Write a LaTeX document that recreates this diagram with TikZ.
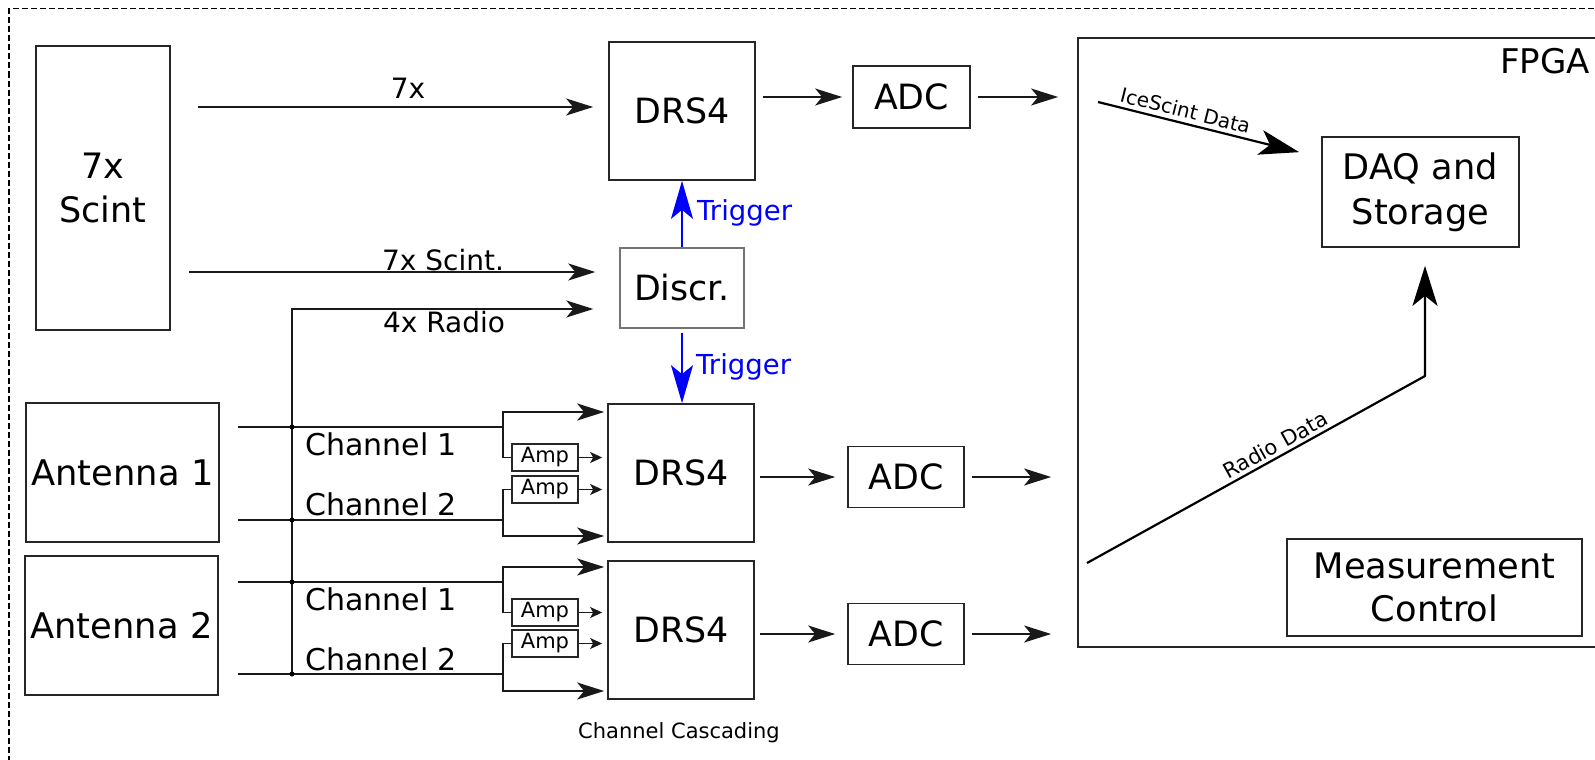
\documentclass[tikz,border=0pt]{standalone}
\usepackage{fontspec}
\setmainfont{DejaVu Sans}
\usetikzlibrary{arrows.meta,calc}
\newcommand{\fsz}[2]{\fontsize{#1}{#2}\selectfont}
\begin{document}
\begin{tikzpicture}[x=1pt,y=-1pt,
  box/.style={draw=black!85, line width=1.7pt, inner sep=0pt, font=\fsz{34.8}{43}, align=center},
  ampbox/.style={draw=black!85, line width=1.5pt, minimum width=66pt, minimum height=27pt, inner sep=0pt, font=\fsz{21}{25}},
  wire/.style={line width=1.8pt, draw=black!90},
  arrA/.style={wire, -{Stealth[length=27pt,width=17pt,inset=7pt]}},
  arrS/.style={wire, line width=1.4pt, -{Stealth[length=12pt,width=11pt,inset=3pt]}},
  arrT/.style={line width=2pt, draw=blue, fill=blue, -{Stealth[length=38pt,width=22pt,inset=9pt]}},
  arrL/.style={line width=2.2pt, draw=black, -{Stealth[length=40pt,width=25pt,inset=10pt]}},
  lbl/.style={font=\fsz{28}{34}, inner sep=0pt},
  chl/.style={font=\fsz{30}{36}, inner sep=0pt, anchor=base west},
  trig/.style={font=\fsz{27.5}{32}, text=blue, inner sep=0pt, anchor=west},
  dot/.style={circle, fill=black, inner sep=0pt, minimum size=5pt},
]
\useasboundingbox (0,0) rectangle (1595,760);
\clip (0,0) rectangle (1595,760);

% outer dashed frame
\draw[line width=1.5pt, dash pattern=on 6pt off 3pt] (9,8.5) rectangle (1630,800);

% blocks
\node[box, minimum width=134pt, minimum height=284pt, font=\fsz{35}{44}] (scint) at (103,188) {7x\\Scint};
\node[box, minimum width=146pt, minimum height=138pt] (drsA) at (682,111) {DRS4};
\node[box, draw=black!55, line width=1.4pt, minimum width=124pt, minimum height=80pt] (discr) at (682,288) {Discr.};
\node[box, minimum width=117pt, minimum height=62pt] (adcA) at (911.5,97) {ADC};
\node[box, minimum width=193pt, minimum height=139pt, font=\fsz{35.3}{43}] (ant1) at (122.5,472.5) {Antenna 1};
\node[box, minimum width=193pt, minimum height=139pt, font=\fsz{35.3}{43}] (ant2) at (121.5,625.5) {Antenna 2};
\node[box, minimum width=146pt, minimum height=138pt] (drsB) at (681,473) {DRS4};
\node[box, minimum width=146pt, minimum height=138pt] (drsC) at (681,630) {DRS4};
\node[box, minimum width=116pt, minimum height=61pt] (adcB) at (906,477) {ADC};
\node[box, minimum width=116pt, minimum height=61pt] (adcC) at (906,634) {ADC};
\node[ampbox] (amp1) at (545,457.5) {Amp};
\node[ampbox] (amp2) at (545,489.5) {Amp};
\node[ampbox] (amp3) at (545,612.5) {Amp};
\node[ampbox] (amp4) at (545,643.5) {Amp};
\node[box, line width=1.8pt, minimum width=562pt, minimum height=609pt] (fpga) at (1359,342.5) {};
\node[font=\fsz{34}{40}, anchor=base east, inner sep=0pt] (fpgalbl) at (1590,74) {FPGA};
\node[box, minimum width=197pt, minimum height=110pt, font=\fsz{35.2}{45}] (daq) at (1420.5,192) {DAQ and\\Storage};
\node[box, minimum width=295pt, minimum height=97pt, font=\fsz{35.2}{43}] (meas) at (1434.5,587.5) {Measurement\\Control};

% scintillator paths
\coordinate (s7) at (198,107);
\draw[arrA, shorten >=15pt] (s7) -- (s7 -| drsA.west);
\node[lbl] (l7x) at (408,88) {7x};
\coordinate (s7b) at (189,272);
\draw[arrA, shorten >=24pt] (s7b) -- (s7b -| discr.west);
\node[lbl, anchor=base] (l7s) at (443,270.5) {7x Scint.};

% radio bus to discriminator
\coordinate (busTop) at (292,309);
\coordinate (busBot) at (292,674);
\draw[arrA, shorten >=26pt] (busBot) -- (busTop) -- (busTop -| discr.west);
\node[lbl] (l4r) at (444,322) {4x Radio};

% triggers
\draw[arrT] (discr.north) -- (drsA.south);
\node[trig] (tr1) at (697,213) {Trigger};
\draw[arrT, shorten <=4pt] (discr.south) -- (discr.south |- drsB.north);
\node[trig] (tr2) at (696,367) {Trigger};

% antenna lines
\coordinate (a1c1) at (238,427);
\coordinate (a1c2) at (238,520);
\coordinate (a2c1) at (238,582);
\coordinate (a2c2) at (238,674);
\coordinate (b1) at (503,427);
\coordinate (b2) at (503,520);
\coordinate (b3) at (503,582);
\coordinate (b4) at (503,674);
\coordinate (t1) at (503,412);
\coordinate (u2) at (503,536);
\coordinate (t3) at (503,567);
\coordinate (u4) at (503,691);

\draw[wire] (a1c1) -- (b1);
\draw[wire] (a1c2) -- (b2);
\draw[wire] (a2c1) -- (b3);
\draw[wire] (a2c2) -- (b4);

\node[dot] (d1) at (a1c1 -| busTop) {};
\node[dot] (d2) at (a1c2 -| busTop) {};
\node[dot] (d3) at (a2c1 -| busTop) {};
\node[dot] (d4) at (a2c2 -| busTop) {};

\node[chl] (c11) at (305,455) {Channel 1};
\node[chl] (c12) at (305,515) {Channel 2};
\node[chl] (c21) at (305,610) {Channel 1};
\node[chl] (c22) at (305,670) {Channel 2};

% cascading branches, DRS4 #2
\draw[arrA, shorten >=3pt] (b1) -- (t1) -- (t1 -| drsB.west);
\draw[wire] (b1) |- (amp1.west);
\draw[arrS, shorten >=5pt] (amp1.east) -- (amp1.east -| drsB.west);
\draw[wire] (b2) |- (amp2.west);
\draw[arrS, shorten >=5pt] (amp2.east) -- (amp2.east -| drsB.west);
\draw[arrA, shorten >=3pt] (b2) -- (u2) -- (u2 -| drsB.west);

% cascading branches, DRS4 #3
\draw[arrA, shorten >=3pt] (b3) -- (t3) -- (t3 -| drsC.west);
\draw[wire] (b3) |- (amp3.west);
\draw[arrS, shorten >=5pt] (amp3.east) -- (amp3.east -| drsC.west);
\draw[wire] (b4) |- (amp4.west);
\draw[arrS, shorten >=5pt] (amp4.east) -- (amp4.east -| drsC.west);
\draw[arrA, shorten >=3pt] (b4) -- (u4) -- (u4 -| drsC.west);

\node[font=\fsz{21}{25}, inner sep=0pt] (casc) at (679,733) {Channel Cascading};

% DRS4 -> ADC -> FPGA
\draw[arrA, shorten <=7pt, shorten >=10pt] (drsA.east |- adcA.west) -- (adcA.west);
\draw[arrA, shorten <=5pt, shorten >=12pt] (drsB.east |- adcB.west) -- (adcB.west);
\draw[arrA, shorten <=5pt, shorten >=12pt] (drsC.east |- adcC.west) -- (adcC.west);
\draw[arrA, shorten <=7pt, shorten >=19pt] (adcA.east) -- (adcA.east -| fpga.west);
\draw[arrA, shorten <=7pt, shorten >=26pt] (adcB.east) -- (adcB.east -| fpga.west);
\draw[arrA, shorten <=7pt, shorten >=26pt] (adcC.east) -- (adcC.east -| fpga.west);

% inside FPGA
\coordinate (iceS) at (1098,102);
\draw[arrL] (iceS) -- ($(daq.north west)+(-22,16)$)
  node[pos=0.42, sloped, above=4pt, inner sep=0pt, font=\fsz{20}{24}] (lice) {IceScint Data};
\coordinate (radS) at (1087,563);
\coordinate (radC) at (1425,376);
\draw[arrL, shorten >=18pt] (radS) -- (radC)
  node[pos=0.575, sloped, above=3pt, inner sep=0pt, font=\fsz{21}{25}] (lrad) {Radio Data}
  -- (radC |- daq.south);
\end{tikzpicture}
\end{document}
